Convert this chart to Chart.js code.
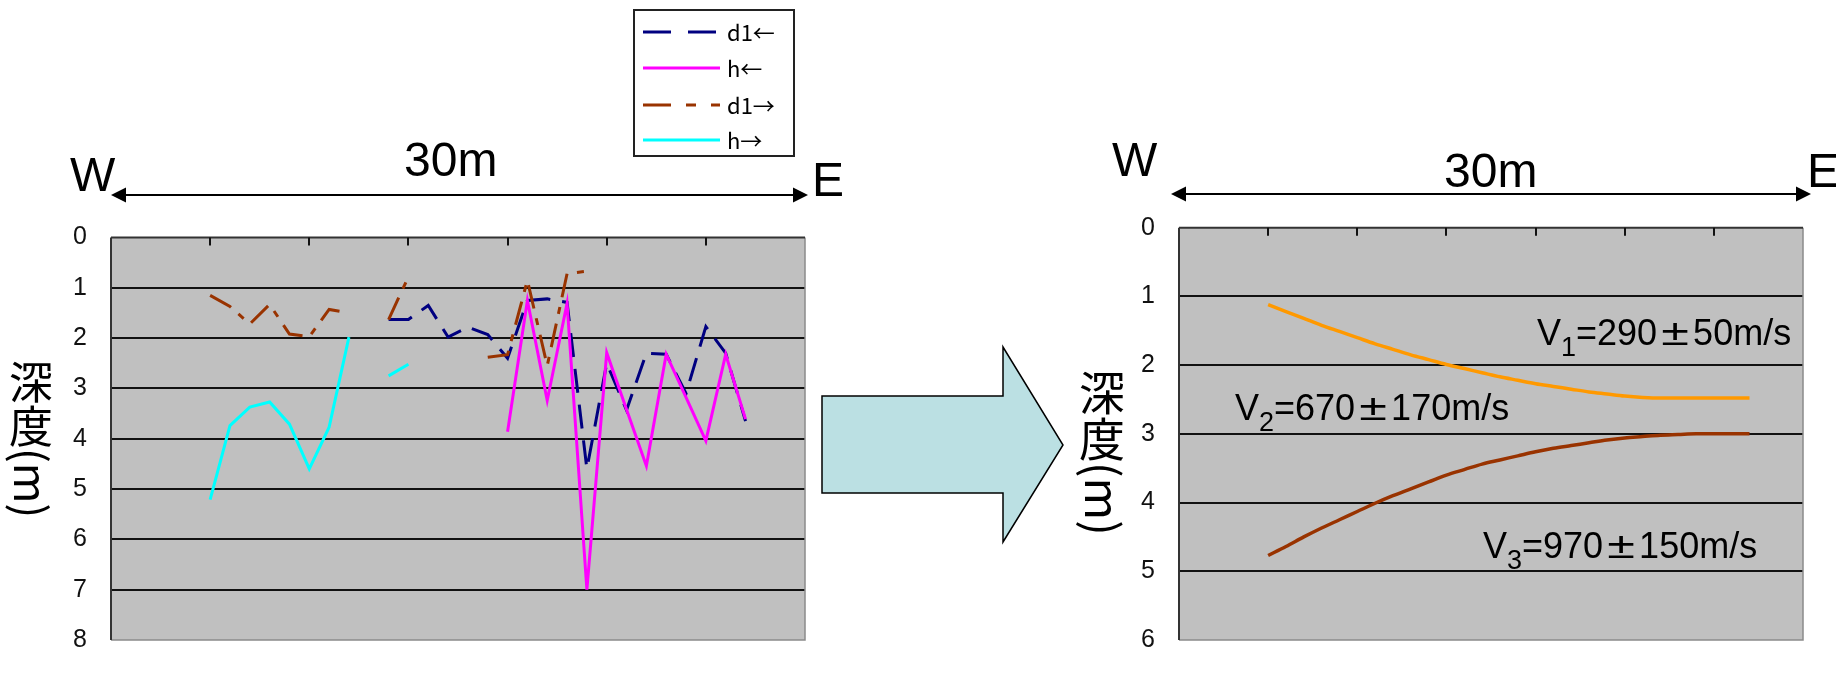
<!DOCTYPE html>
<html>
<head>
<meta charset="utf-8">
<script src="https://cdn.jsdelivr.net/npm/chart.js@4/dist/chart.umd.min.js"></script>
<style>
  html, body { margin: 0; padding: 0; background: #fff; width: 1836px; height: 679px; overflow: hidden; }
  canvas { position: absolute; top: 0; }
  #profileLeft { left: 0; }
  #profileRight { left: 1064px; }
</style>
</head>
<body>
<canvas id="profileLeft" width="1080" height="679"></canvas>
<canvas id="profileRight" width="772" height="679"></canvas>
<script>
// Distance along the survey line (m); one reading per metre
const distance = [5, 6, 7, 8, 9, 10, 11, 12, 13, 14, 15, 16, 17, 18, 19, 20, 21, 22, 23, 24, 25, 26, 27, 28, 29, 30, 31, 32];

// Left panel: interface depths (m) picked from the two shooting directions
const d1West = [null, null, null, null, null, null, null, null, null, 1.63, 1.63, 1.35, 1.98, 1.78, 1.93, 2.40, 1.25, 1.22, 1.29, 4.60, 2.50, 3.43, 2.30, 2.32, 3.10, 1.77, 2.30, 3.65];
const hWest  = [null, null, null, null, null, null, null, null, null, null, null, null, null, null, null, 3.86, 1.25, 3.24, 1.31, 7.00, 2.29, 3.42, 4.54, 2.32, 3.18, 4.04, 2.32, 3.61];
const d1East = [1.15, 1.37, 1.72, 1.33, 1.92, 1.97, 1.43, 1.50, null, 1.63, 0.78, null, null, null, 2.38, 2.33, 0.85, 2.55, 0.72, 0.67, null, null, null, null, null, null, null, null];
const hEast  = [5.21, 3.74, 3.37, 3.27, 3.71, 4.60, 3.77, 1.98, null, 2.75, 2.52, null, null, null, null, null, null, null, null, null, null, null, null, null, null, null, null, null];

// Right panel: interpreted layer boundaries (m)
const layer1Base = [1.12, 1.22, 1.32, 1.42, 1.51, 1.60, 1.69, 1.77, 1.85, 1.92, 1.99, 2.05, 2.11, 2.17, 2.22, 2.27, 2.31, 2.35, 2.39, 2.42, 2.45, 2.47, 2.48, 2.48, 2.48, 2.48, 2.48, 2.48];
const layer2Base = [4.77, 4.64, 4.50, 4.37, 4.25, 4.13, 4.01, 3.90, 3.80, 3.70, 3.60, 3.52, 3.44, 3.38, 3.32, 3.26, 3.21, 3.17, 3.13, 3.09, 3.06, 3.04, 3.02, 3.01, 3.00, 3.00, 3.00, 3.00];

// Labels
const seriesNames = ['d1←', 'h←', 'd1→', 'h→'];
const depthTitle = '深度(m)';
const spanLabel = '30m';
const westLabel = 'W';
const eastLabel = 'E';
const velocityLabels = [
  { sub: '1', value: '290', err: '50' },
  { sub: '2', value: '670', err: '170' },
  { sub: '3', value: '970', err: '150' }
];
const leftDepthTicks = [0, 1, 2, 3, 4, 5, 6, 7, 8];
const rightDepthTicks = [0, 1, 2, 3, 4, 5, 6];

const SANS = '"Liberation Sans", Arial, sans-serif';
const NARROW = '"Liberation Sans Narrow", "Arial Narrow", "Liberation Sans", sans-serif';
const CJK = '"Noto Sans CJK JP", "Noto Sans", sans-serif';

const pairs = (arr) => distance.map((x, i) => ({ x, y: arr[i] }));

// ---------- drawing helpers ----------
function drawSpanArrow(ctx, x1, x2, y) {
  ctx.save();
  ctx.strokeStyle = '#000';
  ctx.fillStyle = '#000';
  ctx.lineWidth = 2;
  ctx.beginPath();
  ctx.moveTo(x1 + 10, y);
  ctx.lineTo(x2 - 10, y);
  ctx.stroke();
  const head = 15, half = 7.5;
  ctx.beginPath();
  ctx.moveTo(x1, y); ctx.lineTo(x1 + head, y - half); ctx.lineTo(x1 + head, y + half); ctx.closePath();
  ctx.fill();
  ctx.beginPath();
  ctx.moveTo(x2, y); ctx.lineTo(x2 - head, y - half); ctx.lineTo(x2 - head, y + half); ctx.closePath();
  ctx.fill();
  ctx.restore();
}

function drawText(ctx, text, x, baseline, size, family) {
  ctx.save();
  ctx.fillStyle = '#000';
  ctx.font = size + 'px ' + family;
  ctx.textAlign = 'left';
  ctx.textBaseline = 'alphabetic';
  ctx.fillText(text, x, baseline);
  ctx.restore();
}

// Vertical axis title: CJK glyphs upright, the Latin part turned a quarter clockwise
function drawVerticalTitle(ctx, text, cx, top, size) {
  ctx.save();
  ctx.fillStyle = '#000';
  ctx.font = size + 'px ' + CJK;
  ctx.textBaseline = 'middle';
  let y = top;
  let i = 0;
  const chars = Array.from(text);
  while (i < chars.length && /[\u3400-\u9fff]/.test(chars[i])) {
    ctx.textAlign = 'center';
    ctx.fillText(chars[i], cx, y + size / 2);
    y += size;
    i++;
  }
  const rest = chars.slice(i).join('');
  if (rest) {
    ctx.translate(cx, y);
    ctx.rotate(Math.PI / 2);
    ctx.textAlign = 'left';
    ctx.fillText(rest, 0, 0);
  }
  ctx.restore();
}

function drawVelocity(ctx, label, x, baseline) {
  const size = 36;
  const main = size + 'px ' + SANS;
  const small = '27px ' + SANS;
  ctx.save();
  ctx.fillStyle = '#000';
  ctx.textAlign = 'left';
  ctx.textBaseline = 'alphabetic';
  let cx = x;
  ctx.font = main;
  ctx.fillText('V', cx, baseline); cx += ctx.measureText('V').width;
  ctx.font = small;
  ctx.fillText(label.sub, cx, baseline + 11); cx += ctx.measureText(label.sub).width;
  ctx.font = main;
  const head = '=' + label.value;
  ctx.fillText(head, cx, baseline); cx += ctx.measureText(head).width;
  // full-width plus-minus sign
  ctx.save();
  ctx.translate(cx + size / 2, baseline);
  ctx.scale(1.4, 1);
  ctx.textAlign = 'center';
  ctx.fillText('±', 0, 0);
  ctx.restore();
  cx += size;
  ctx.fillText(label.err + 'm/s', cx, baseline);
  ctx.restore();
}

// Gray plot area, frame and the short distance ticks along the top edge
const plotFrame = {
  id: 'plotFrame',
  beforeDraw(chart) {
    const { ctx, chartArea: a } = chart;
    ctx.save();
    ctx.fillStyle = '#c0c0c0';
    ctx.fillRect(a.left, a.top, a.right - a.left, a.bottom - a.top);
    ctx.restore();
  },
  afterDatasetsDraw(chart) {
    const { ctx, chartArea: a, scales } = chart;
    ctx.save();
    ctx.strokeStyle = '#8a8a8a';
    ctx.lineWidth = 1.5;
    ctx.beginPath();
    ctx.moveTo(a.right, a.top); ctx.lineTo(a.right, a.bottom); ctx.lineTo(a.left, a.bottom);
    ctx.stroke();
    ctx.strokeStyle = '#333';
    ctx.lineWidth = 2;
    ctx.beginPath();
    ctx.moveTo(a.left, a.top); ctx.lineTo(a.right, a.top);
    ctx.moveTo(a.left, a.top); ctx.lineTo(a.left, a.bottom);
    ctx.stroke();
    ctx.lineWidth = 2;
    ctx.strokeStyle = '#111';
    for (let v = 5; v < 35; v += 5) {
      const px = Math.round(scales.x.getPixelForValue(v));
      ctx.beginPath();
      ctx.moveTo(px, a.top);
      ctx.lineTo(px, a.top + 8);
      ctx.stroke();
    }
    ctx.restore();
  }
};

function depthAxis(max, ticksList, width) {
  return {
    type: 'linear',
    position: 'left',
    reverse: true,
    min: 0,
    max: max,
    afterBuildTicks(scale) { scale.ticks = ticksList.map(v => ({ value: v })); },
    afterFit(scale) { scale.width = width; },
    ticks: {
      color: '#111',
      padding: 24,
      font: { family: NARROW, size: 25 },
      callback: (v) => String(v)
    },
    grid: {
      drawTicks: false,
      lineWidth: 2,
      color: (c) => (c.tick && (c.tick.value === 0 || c.tick.value === max)) ? 'rgba(0,0,0,0)' : '#111'
    },
    border: { display: false }
  };
}

const distanceAxis = { type: 'linear', min: 0, max: 35, display: false };

// ---------- left panel: raw picks ----------
const leftAnnotations = {
  id: 'leftAnnotations',
  afterDraw(chart) {
    const { ctx } = chart;
    // legend box
    ctx.save();
    ctx.fillStyle = '#fff';
    ctx.fillRect(634, 10, 160, 146);
    ctx.strokeStyle = '#222';
    ctx.lineWidth = 2;
    ctx.strokeRect(634, 10, 160, 146);
    const rows = [32, 68, 105, 140];
    const legendDash = [[28, 17], [], [28, 15, 10, 15], []];
    chart.data.datasets.forEach((ds, i) => {
      const y = rows[i];
      ctx.strokeStyle = ds.borderColor;
      ctx.lineWidth = 3;
      ctx.setLineDash(legendDash[i]);
      ctx.beginPath();
      ctx.moveTo(643, y);
      ctx.lineTo(720, y);
      ctx.stroke();
      ctx.setLineDash([]);
      ctx.fillStyle = '#000';
      ctx.font = '22px ' + CJK;
      ctx.textAlign = 'left';
      ctx.textBaseline = 'middle';
      ctx.fillText(ds.label, 727, y + 1);
    });
    ctx.restore();

    drawText(ctx, westLabel, 70, 191, 48, SANS);
    drawText(ctx, spanLabel, 404, 176, 48, SANS);
    drawText(ctx, eastLabel, 812, 196, 48, SANS);
    drawSpanArrow(ctx, 111, 808, 195);
    drawVerticalTitle(ctx, depthTitle, 31, 360, 44);

    // block arrow leading to the interpretation
    ctx.save();
    ctx.beginPath();
    ctx.moveTo(822, 396);
    ctx.lineTo(1003, 396);
    ctx.lineTo(1003, 347);
    ctx.lineTo(1063, 445);
    ctx.lineTo(1003, 542);
    ctx.lineTo(1003, 493);
    ctx.lineTo(822, 493);
    ctx.closePath();
    ctx.fillStyle = '#bbe0e3';
    ctx.fill();
    ctx.strokeStyle = '#000';
    ctx.lineWidth = 1.5;
    ctx.stroke();
    ctx.restore();
  }
};

const lineStyle = { borderWidth: 3, pointRadius: 0, pointHoverRadius: 0, tension: 0, spanGaps: false, fill: false };

new Chart(document.getElementById('profileLeft'), {
  type: 'line',
  data: {
    datasets: [
      { label: seriesNames[0], data: pairs(d1West), borderColor: '#000080', borderDash: [24, 12], order: 4, ...lineStyle },
      { label: seriesNames[1], data: pairs(hWest), borderColor: '#ff00ff', order: 3, ...lineStyle },
      { label: seriesNames[2], data: pairs(d1East), borderColor: '#993300', borderDash: [24, 10, 7, 10], order: 2, ...lineStyle },
      { label: seriesNames[3], data: pairs(hEast), borderColor: '#00ffff', order: 1, ...lineStyle }
    ]
  },
  options: {
    responsive: false,
    animation: false,
    devicePixelRatio: 1,
    events: [],
    layout: { padding: { left: 0, top: 237.5, right: 275, bottom: 8 } },
    scales: { x: distanceAxis, y: depthAxis(8, leftDepthTicks, 111) },
    plugins: { legend: { display: false }, tooltip: { enabled: false } }
  },
  plugins: [plotFrame, leftAnnotations]
});

// ---------- right panel: layered velocity model ----------
const rightAnnotations = {
  id: 'rightAnnotations',
  afterDraw(chart) {
    const { ctx } = chart;
    drawText(ctx, westLabel, 48, 176, 48, SANS);
    drawText(ctx, spanLabel, 380, 187, 48, SANS);
    drawText(ctx, eastLabel, 743, 187, 48, SANS);
    drawSpanArrow(ctx, 107, 747, 194);
    drawVerticalTitle(ctx, depthTitle, 38, 370, 46);
    drawVelocity(ctx, velocityLabels[0], 473, 345);
    drawVelocity(ctx, velocityLabels[1], 171, 420);
    drawVelocity(ctx, velocityLabels[2], 419, 558);
  }
};

const curveStyle = { ...lineStyle, borderWidth: 3.5, cubicInterpolationMode: 'monotone' };

new Chart(document.getElementById('profileRight'), {
  type: 'line',
  data: {
    datasets: [
      { label: 'V1 / V2', data: pairs(layer1Base), borderColor: '#ff9900', ...curveStyle },
      { label: 'V2 / V3', data: pairs(layer2Base), borderColor: '#993300', ...curveStyle }
    ]
  },
  options: {
    responsive: false,
    animation: false,
    devicePixelRatio: 1,
    events: [],
    layout: { padding: { left: 0, top: 227.7, right: 33, bottom: 12 } },
    scales: { x: distanceAxis, y: depthAxis(6, rightDepthTicks, 115) },
    plugins: { legend: { display: false }, tooltip: { enabled: false } }
  },
  plugins: [plotFrame, rightAnnotations]
});
</script>
</body>
</html>
